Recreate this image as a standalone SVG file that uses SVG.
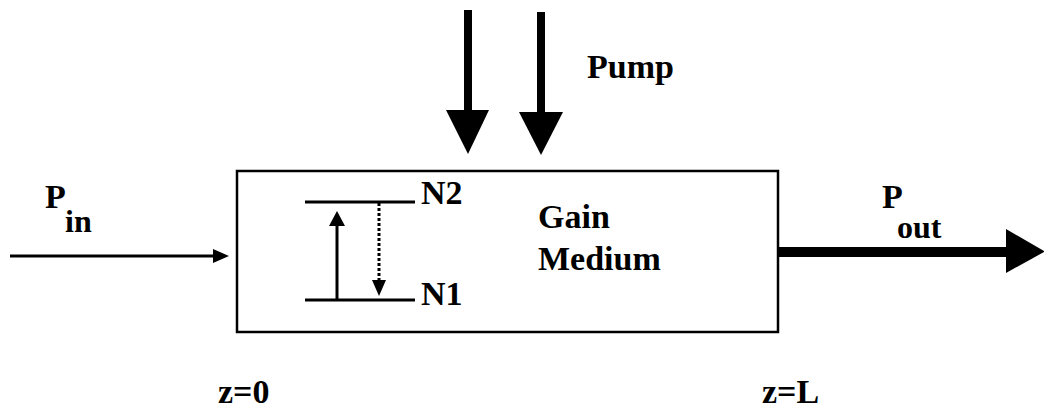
<svg xmlns="http://www.w3.org/2000/svg" width="1044" height="410" viewBox="0 0 1044 410">
<style>
.ln{stroke:#000;fill:none}
</style>
<rect width="1044" height="410" fill="#fff"/>
<g id="medium" font-family="Liberation Serif" font-weight="bold" font-size="34">
<rect x="237" y="171" width="541" height="161" fill="none" stroke="#000" stroke-width="2.5"/>
<text font-family="Liberation Serif" x="538" y="228">Gain</text>
<text font-family="Liberation Serif" x="538" y="270">Medium</text>
</g>
<g id="levels" font-family="Liberation Serif" font-weight="bold" font-size="34">
<line class="ln" x1="305" y1="202" x2="415" y2="202" stroke-width="3"/>
<line class="ln" x1="305" y1="300" x2="415" y2="300" stroke-width="3"/>
<text font-family="Liberation Serif" x="421" y="204">N2</text>
<text font-family="Liberation Serif" x="421" y="305">N1</text>
</g>
<g id="labels" font-family="Liberation Serif" font-weight="bold" font-size="34">
<text font-family="Liberation Serif" x="45" y="208">P</text>
<text font-family="Liberation Serif" font-size="32" x="65" y="232">in</text>
<text font-family="Liberation Serif" x="882" y="208">P</text>
<text font-family="Liberation Serif" font-size="32" x="897" y="238">out</text>
<text font-family="Liberation Serif" x="587" y="78">Pump</text>
<text font-family="Liberation Serif" x="218" y="403">z=0</text>
<text font-family="Liberation Serif" x="762" y="403">z=L</text>
</g>
<g id="connectors">
<line class="ln" x1="10" y1="256" x2="215" y2="256" stroke-width="3"/>
<polygon points="213,249 229,256 213,263"/>
<line class="ln" x1="468" y1="10" x2="468" y2="112" stroke-width="8"/>
<polygon points="446,110 489,110 468,154"/>
<line class="ln" x1="541" y1="12" x2="541" y2="114" stroke-width="8"/>
<polygon points="519,112 563,112 541,155"/>
<line class="ln" x1="778" y1="252" x2="1010" y2="252" stroke-width="10"/>
<polygon points="1006,229 1044,251 1044,252 1006,273"/>
<line class="ln" x1="337" y1="300" x2="337" y2="222" stroke-width="3"/>
<polygon points="329,226 337,211 345,226"/>
<line class="ln" x1="379" y1="203" x2="379" y2="281" stroke-width="3" stroke-dasharray="3,2"/>
<polygon points="372,280 386,280 379,296"/>
</g>
</svg>
